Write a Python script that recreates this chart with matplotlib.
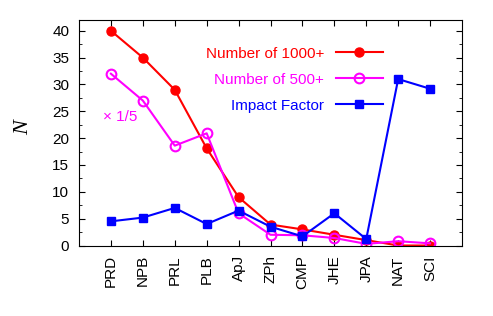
import matplotlib
matplotlib.use('Agg')
import matplotlib.pyplot as plt
import numpy as np
from matplotlib.ticker import MultipleLocator

plt.rcParams['font.family'] = ['Liberation Sans', 'DejaVu Sans']

journals = ['PRD', 'NPB', 'PRL', 'PLB', 'ApJ', 'ZPh', 'CMP', 'JHE', 'JPA', 'NAT', 'SCI']
n1000 = [40, 35, 29, 18.1, 9.0, 3.9, 3.0, 2.0, 1.0, 0.0, 0.0]
n500 = [32, 27, 18.6, 20.9, 6.0, 2.0, 1.9, 1.4, 0.3, 0.8, 0.4]  # x 1/5
impact = [4.5, 5.2, 7.0, 4.0, 6.5, 3.5, 1.7, 6.0, 1.2, 31.0, 29.2]

x = np.arange(1, len(journals) + 1)
fs = 11

fig = plt.figure(figsize=(4.93, 3.16), dpi=100)
ax = fig.add_axes([79 / 493, 1 - 245.5 / 316, 383 / 493, 226 / 316])

ax.plot(x, n1000, '-o', color='red', lw=1.5, ms=6.5, label='Number of 1000+')
ax.plot(x, n500, '-o', color='magenta', lw=1.5, ms=7, mfc='none', mew=1.5,
        label='Number of 500+')
ax.plot(x, impact, '-s', color='blue', lw=1.5, ms=6, label='Impact Factor')

ax.set_xlim(0, 12)
ax.set_ylim(0, 42.1)
ax.set_xticks(x)
ax.set_xticklabels(journals, rotation=90, fontsize=fs)
ax.yaxis.set_major_locator(MultipleLocator(5))
ax.yaxis.set_minor_locator(MultipleLocator(2.5))
ax.tick_params(direction='in', top=True, right=True, labelsize=fs, length=4)
ax.tick_params(which='minor', direction='in', right=True, length=2)
ax.tick_params(axis='x', pad=7)
ax.tick_params(axis='y', pad=7)

ax.set_ylabel('N', family='Liberation Serif', style='italic', fontsize=16)
ax.yaxis.set_label_coords(-(79 - 33) / 383, 0.52)

ax.text(0.74, 24.0, '× 1/5', color='magenta', fontsize=fs, va='center')

leg = ax.legend(loc='upper right', bbox_to_anchor=(0.794, 0.879),
                frameon=False, markerfirst=False, labelcolor='linecolor',
                fontsize=fs, handlelength=3.1, handletextpad=0.75,
                labelspacing=0.78, borderaxespad=0, borderpad=0)

fig.savefig('out.png', dpi=100)
